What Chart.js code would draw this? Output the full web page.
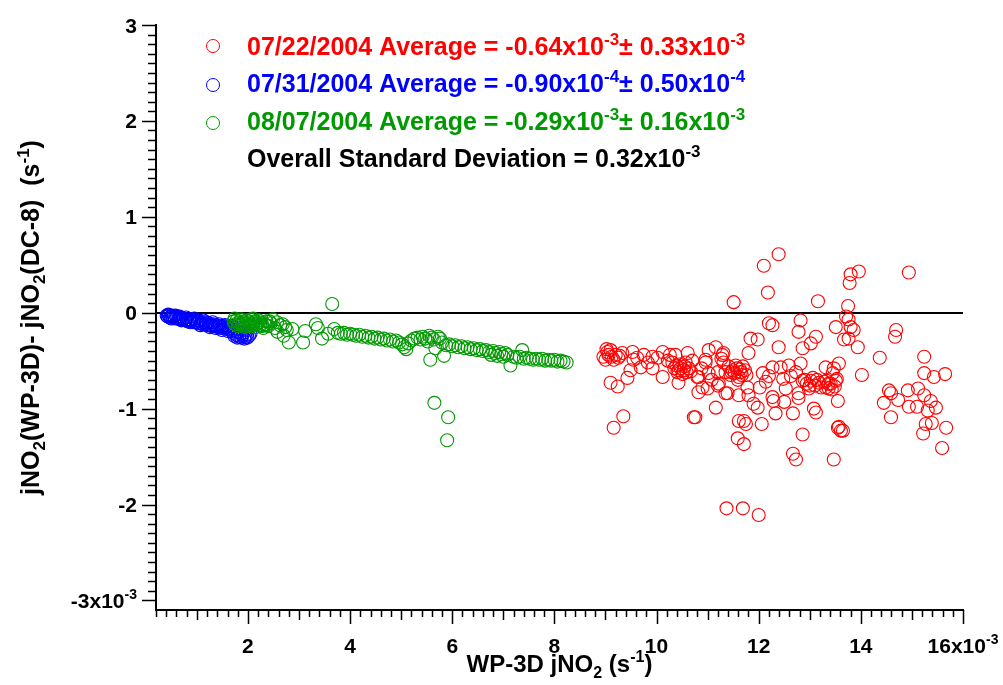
<!DOCTYPE html>
<html>
<head>
<meta charset="utf-8">
<script src="https://cdn.jsdelivr.net/npm/chart.js@4/dist/chart.umd.min.js"></script>
<style>
  body { margin: 0; background: #fff; }
</style>
</head>
<body>
<canvas id="jno2Chart" width="1003" height="685"></canvas>
<script>
// [x, y] pairs, both in units of 1e-3 s^-1
var red0722 = [
  [11.51, 0.11], [9.04, -0.41], [9.10, -0.39], [8.96, -0.46], [9.20, -0.44], [9.25, -0.47],
  [9.33, -0.42], [9.00, -0.49], [9.16, -0.49], [9.53, -0.41], [9.55, -0.49], [9.75, -0.44],
  [9.92, -0.46], [10.12, -0.41], [10.02, -0.47], [9.69, -0.57], [9.92, -0.58], [9.49, -0.60],
  [9.43, -0.68], [9.10, -0.73], [9.24, -0.77], [10.12, -0.67], [10.37, -0.44], [10.61, -0.42],
  [10.31, -0.52], [10.39, -0.55], [10.47, -0.58], [10.55, -0.56], [10.43, -0.60], [10.59, -0.62],
  [10.51, -0.64], [10.63, -0.58], [10.35, -0.58], [10.67, -0.61], [10.43, -0.73], [10.80, -0.67],
  [10.82, -0.83], [11.00, -0.79], [10.96, -0.52], [11.16, -0.36], [11.02, -0.39], [11.31, -0.42],
  [11.31, -0.52], [11.20, -0.62], [11.20, -0.76], [11.39, -0.84], [11.16, -0.99], [10.73, -1.09],
  [9.35, -1.08], [9.16, -1.20], [11.61, -1.13], [11.59, -1.31],
  [12.39, 0.61], [12.10, 0.49], [12.18, 0.21], [13.16, 0.12], [12.20, -0.11], [12.27, -0.13],
  [12.82, -0.08], [12.78, -0.20], [13.51, -0.15], [13.12, -0.25], [13.02, -0.32], [12.86, -0.37],
  [12.39, -0.36], [11.84, -0.27], [11.98, -0.28], [11.80, -0.42], [11.29, -0.44], [10.96, -0.49],
  [11.41, -0.56], [11.49, -0.60], [11.57, -0.58], [11.65, -0.62], [11.73, -0.60], [11.45, -0.65],
  [11.61, -0.67], [11.69, -0.56], [11.76, -0.65], [11.53, -0.63], [11.35, -0.62],
  [12.08, -0.63], [12.27, -0.57], [12.43, -0.57], [12.59, -0.55], [12.73, -0.62], [12.82, -0.53],
  [12.86, -0.71], [12.94, -0.74], [13.02, -0.71], [13.10, -0.76], [13.18, -0.73], [12.98, -0.79],
  [13.22, -0.78], [13.06, -0.68], [13.37, -0.74], [13.51, -0.71], [13.57, -0.53], [13.31, -0.57],
  [13.45, -0.63], [10.82, -0.67], [11.02, -0.63], [10.90, -0.78], [11.22, -0.74], [11.35, -0.84],
  [11.61, -0.86], [11.78, -0.78], [11.80, -0.86], [11.90, -0.95], [11.98, -0.99], [12.27, -0.88],
  [12.29, -0.92], [12.53, -0.79], [12.33, -1.05], [12.67, -1.05], [12.78, -0.84], [12.78, -0.89],
  [13.08, -1.00], [13.12, -1.04], [13.55, -0.92], [11.71, -1.13], [11.75, -1.16], [12.06, -1.16],
  [10.76, -1.09], [11.71, -1.37], [12.86, -1.27], [12.67, -1.47], [12.73, -1.53], [13.47, -1.53],
  [13.55, -1.20], [13.61, -1.23], [11.37, -2.04], [11.69, -2.04], [12.00, -2.11], [13.67, -0.28],
  [13.96, 0.43], [13.80, 0.40], [13.78, 0.31], [14.94, 0.42], [13.75, 0.07], [13.71, -0.04],
  [13.76, -0.07], [13.80, -0.15], [13.86, -0.18], [13.76, -0.27], [13.94, -0.36], [14.69, -0.18],
  [14.67, -0.25], [14.37, -0.47], [14.02, -0.65], [13.47, -0.58], [13.33, -0.71], [13.41, -0.74],
  [13.49, -0.77], [13.37, -0.79], [13.53, -0.69], [13.31, -0.78], [15.24, -0.46], [15.24, -0.63],
  [15.43, -0.67], [15.65, -0.64], [14.55, -0.81], [14.59, -0.84], [14.45, -0.94], [14.73, -0.91],
  [14.92, -0.81], [15.12, -0.79], [15.24, -0.86], [14.94, -0.98], [15.10, -0.98], [15.37, -0.92],
  [15.47, -0.99], [15.31, -1.02], [14.59, -1.09], [15.27, -1.16], [15.39, -1.15], [15.22, -1.26],
  [15.67, -1.20], [13.57, -1.19], [13.65, -1.23], [15.59, -1.41],
  [9.06, -0.44], [9.12, -0.46], [9.02, -0.38], [9.28, -0.45], [10.45, -0.54], [10.53, -0.60],
  [10.41, -0.62], [10.57, -0.52], [11.47, -0.62], [11.55, -0.55], [11.63, -0.59], [11.67, -0.65],
  [11.59, -0.70], [12.90, -0.70], [13.00, -0.76], [13.14, -0.70], [13.28, -0.72], [13.43, -0.80],
  [10.22, -0.50], [10.26, -0.44], [9.83, -0.52], [9.62, -0.47], [10.70, -0.50], [10.88, -0.58],
  [11.08, -0.70], [11.27, -0.48], [12.14, -0.72], [12.20, -0.66], [12.48, -0.69], [12.63, -0.66],
  [12.50, -0.93], [12.02, -0.78]
];

var blue0731 = [
  [0.41, -0.03], [0.43, -0.04], [0.45, -0.03], [0.47, -0.05], [0.49, -0.04], [0.51, -0.03],
  [0.53, -0.05], [0.55, -0.04], [0.57, -0.06], [0.60, -0.05], [0.62, -0.04], [0.64, -0.06],
  [0.67, -0.07], [0.69, -0.05], [0.72, -0.07], [0.74, -0.06], [0.77, -0.08], [0.80, -0.07],
  [0.82, -0.09], [0.85, -0.08], [0.88, -0.07], [0.90, -0.09], [0.93, -0.10], [0.96, -0.08],
  [0.99, -0.10], [1.02, -0.11], [1.05, -0.09], [1.08, -0.11], [1.11, -0.12], [1.14, -0.10],
  [1.17, -0.12], [1.20, -0.13], [1.23, -0.11], [1.26, -0.13], [1.29, -0.14], [1.32, -0.12],
  [1.35, -0.14], [1.38, -0.13], [1.41, -0.15], [1.44, -0.14], [1.47, -0.16], [1.50, -0.15],
  [1.53, -0.14], [1.56, -0.16], [1.59, -0.15], [1.62, -0.17], [1.65, -0.16], [1.68, -0.19],
  [1.71, -0.21], [1.74, -0.18], [1.77, -0.23], [1.80, -0.20], [1.83, -0.25], [1.86, -0.22],
  [1.89, -0.24], [1.92, -0.21], [1.95, -0.25], [1.98, -0.23], [2.02, -0.24], [2.05, -0.22],
  [1.70, -0.14], [1.85, -0.16],
  [0.44, -0.02], [0.50, -0.06], [0.58, -0.03], [0.66, -0.04], [0.70, -0.08], [0.79, -0.05],
  [0.87, -0.10], [0.95, -0.06], [1.01, -0.08], [1.07, -0.13], [1.13, -0.08], [1.19, -0.10],
  [1.25, -0.15], [1.31, -0.10], [1.37, -0.16], [1.43, -0.12], [1.49, -0.18], [1.55, -0.13],
  [1.61, -0.19], [1.67, -0.14], [1.73, -0.24], [1.79, -0.26], [1.87, -0.26], [1.93, -0.27],
  [1.99, -0.26]
];

var green0807 = [
  [1.72, -0.09], [1.75, -0.12], [1.78, -0.08], [1.80, -0.14], [1.83, -0.10], [1.86, -0.07],
  [1.88, -0.13], [1.91, -0.09], [1.93, -0.15], [1.96, -0.11], [1.98, -0.08], [2.01, -0.13],
  [2.03, -0.10], [2.06, -0.07], [2.08, -0.14], [2.11, -0.11], [2.13, -0.09], [2.16, -0.15],
  [2.18, -0.12], [2.21, -0.08], [2.24, -0.13], [2.27, -0.11], [2.30, -0.16], [2.33, -0.12],
  [2.36, -0.09], [2.40, -0.14], [2.44, -0.11], [2.49, -0.07], [2.53, -0.16], [2.63, -0.13],
  [2.73, -0.15], [2.76, -0.18], [2.80, -0.31], [3.08, -0.31], [3.12, -0.19], [3.33, -0.12],
  [3.37, -0.16], [3.45, -0.27], [3.57, -0.22], [3.69, -0.17], [3.65, 0.09],
  [1.74, -0.06], [1.82, -0.12], [1.90, -0.11], [1.97, -0.14], [2.04, -0.12], [2.10, -0.06],
  [2.15, -0.12], [2.22, -0.10], [2.28, -0.14], [2.35, -0.13], [2.42, -0.09], [2.57, -0.10],
  [2.68, -0.12], [2.87, -0.17], [2.58, -0.20], [2.70, -0.24],
  [3.76, -0.21], [3.82, -0.22], [3.88, -0.21], [3.94, -0.23], [4.00, -0.22], [4.06, -0.23],
  [4.12, -0.24], [4.18, -0.23], [4.24, -0.25], [4.30, -0.24], [4.36, -0.26], [4.42, -0.25],
  [4.48, -0.27], [4.54, -0.26], [4.60, -0.28], [4.66, -0.27], [4.72, -0.29], [4.78, -0.28],
  [4.84, -0.30], [4.90, -0.29], [4.96, -0.31], [5.02, -0.33], [5.06, -0.36], [5.10, -0.38],
  [5.14, -0.32], [5.20, -0.29], [5.26, -0.27], [5.32, -0.26], [5.38, -0.28], [5.42, -0.25],
  [5.47, -0.27], [5.52, -0.30], [5.55, -0.24], [5.60, -0.26], [5.64, -0.28], [5.67, -0.37],
  [5.57, -0.49], [5.84, -0.45], [5.72, -0.25], [5.76, -0.27], [5.80, -0.31], [5.88, -0.34],
  [5.94, -0.33], [6.00, -0.35], [6.06, -0.34], [6.12, -0.36], [6.18, -0.35], [6.24, -0.37],
  [6.30, -0.36], [6.36, -0.38], [6.42, -0.37], [6.48, -0.39], [6.54, -0.38], [6.60, -0.40],
  [6.66, -0.39], [6.72, -0.41], [6.76, -0.44], [6.80, -0.40], [6.84, -0.42], [6.88, -0.45],
  [6.92, -0.41], [6.96, -0.43], [7.00, -0.46], [7.04, -0.42], [7.08, -0.44], [7.14, -0.55],
  [7.20, -0.46], [7.26, -0.47], [7.32, -0.46], [7.37, -0.39], [7.40, -0.48], [7.46, -0.47],
  [7.52, -0.48], [7.58, -0.49], [7.64, -0.48], [7.70, -0.49], [7.76, -0.48], [7.82, -0.50],
  [7.88, -0.49], [7.94, -0.50], [8.00, -0.49], [8.06, -0.51], [8.12, -0.50], [8.18, -0.51],
  [8.24, -0.52], [5.65, -0.94], [5.92, -1.09], [5.90, -1.33]
];

var xTickValues = [2, 4, 6, 8, 10, 12, 14, 16];
var xTickLabels = ["2", "4", "6", "8", "10", "12", "14", "16x10"];
var yTickValues = [-3, -2, -1, 0, 1, 2, 3];
var yTickLabels = ["-3x10", "-2", "-1", "0", "1", "2", "3"];

var RED = "#ff0000";
var BLUE = "#0000ff";
var GREEN = "#009900";
var FONT = '"Liberation Sans", Arial, sans-serif';

var legendRows = [
  { color: RED, marker: true, parts: [["07/22/2004 Average = -0.64x10", ""], ["-3", "sup"], ["\u00b1 0.33x10", ""], ["-3", "sup"]] },
  { color: BLUE, marker: true, parts: [["07/31/2004 Average = -0.90x10", ""], ["-4", "sup"], ["\u00b1 0.50x10", ""], ["-4", "sup"]] },
  { color: GREEN, marker: true, parts: [["08/07/2004 Average = -0.29x10", ""], ["-3", "sup"], ["\u00b1 0.16x10", ""], ["-3", "sup"]] },
  { color: "#000", marker: false, parts: [["Overall Standard Deviation = 0.32x10", ""], ["-3", "sup"]] }
];

function toPoints(arr) {
  return arr.map(function (p) { return { x: p[0], y: p[1] }; });
}

// text with super/subscripts, parts = [[text, ""|"sup"|"sub"], ...]
function richWidth(ctx, parts, size) {
  var w = 0;
  parts.forEach(function (p) {
    ctx.font = "bold " + (p[1] ? Math.round(size * 0.68) : size) + "px " + FONT;
    w += ctx.measureText(p[0]).width;
  });
  return w;
}

function drawRich(ctx, parts, x, y, size, align) {
  var w = richWidth(ctx, parts, size);
  if (align === "center") x -= w / 2;
  if (align === "right") x -= w;
  ctx.textAlign = "left";
  ctx.textBaseline = "alphabetic";
  parts.forEach(function (p) {
    var s = p[1] ? Math.round(size * 0.68) : size;
    var dy = p[1] === "sup" ? -size * 0.42 : p[1] === "sub" ? size * 0.25 : 0;
    ctx.font = "bold " + s + "px " + FONT;
    ctx.fillText(p[0], x, y + dy);
    x += ctx.measureText(p[0]).width;
  });
}

var decorations = {
  id: "decorations",
  afterDraw: function (chart) {
    var ctx = chart.ctx;
    var xs = chart.scales.x;
    var ys = chart.scales.y;
    var area = chart.chartArea;
    ctx.save();
    ctx.strokeStyle = "#000";
    ctx.fillStyle = "#000";
    ctx.lineWidth = 1.5;

    // x ticks: minor every 0.2, medium on odd integers, long on labelled ones
    ctx.beginPath();
    for (var i = 1; i <= 80; i++) {
      var px = Math.round(xs.getPixelForValue(i / 5)) + 0.5;
      var len = i % 10 === 0 ? 14 : i % 5 === 0 ? 10 : 7;
      ctx.moveTo(px, area.bottom);
      ctx.lineTo(px, area.bottom + len);
    }
    // y ticks: minor every 0.1
    for (var j = -30; j <= 30; j++) {
      var py = Math.round(ys.getPixelForValue(j / 10)) + 0.5;
      var l = j % 10 === 0 ? 14 : 8;
      ctx.moveTo(area.left, py);
      ctx.lineTo(area.left - l, py);
    }
    ctx.stroke();

    // tick labels
    xTickValues.forEach(function (v, k) {
      var parts = [[xTickLabels[k], ""]];
      if (k === xTickValues.length - 1) parts.push(["-3", "sup"]);
      drawRich(ctx, parts, xs.getPixelForValue(v), 653, 21, "center");
    });
    yTickValues.forEach(function (v, k) {
      var parts = [[yTickLabels[k], ""]];
      if (k === 0) parts.push(["-3", "sup"]);
      drawRich(ctx, parts, 137, ys.getPixelForValue(v) + 7.5, 21, "right");
    });

    // axis titles
    drawRich(ctx, [["WP-3D jNO", ""], ["2", "sub"], [" (s", ""], ["-1", "sup"], [")", ""]],
      (area.left + area.right) / 2, 672, 24, "center");
    ctx.save();
    ctx.translate(39, (area.top + area.bottom) / 2);
    ctx.rotate(-Math.PI / 2);
    drawRich(ctx, [["jNO", ""], ["2", "sub"], ["(WP-3D)- jNO", ""], ["2", "sub"], ["(DC-8)  (s", ""], ["-1", "sup"], [")", ""]],
      0, 0, 25, "center");
    ctx.restore();

    // legend
    var baselines = [55, 92, 130, 167];
    var markerY = [46, 85, 123];
    legendRows.forEach(function (row, r) {
      if (row.marker) {
        ctx.beginPath();
        ctx.strokeStyle = row.color;
        ctx.lineWidth = 1;
        ctx.arc(213, markerY[r], 6.5, 0, Math.PI * 2);
        ctx.stroke();
      }
      ctx.fillStyle = row.color;
      drawRich(ctx, row.parts, 247, baselines[r], 25, "left");
    });
    ctx.restore();
  }
};

function series(data, color, order) {
  return {
    data: toPoints(data),
    borderColor: color,
    backgroundColor: "rgba(0,0,0,0)",
    pointRadius: 6.5,
    pointBorderWidth: 1.1,
    pointHoverRadius: 6.5,
    showLine: false,
    order: order
  };
}

new Chart(document.getElementById("jno2Chart").getContext("2d"), {
  type: "scatter",
  data: {
    datasets: [
      series(green0807, GREEN, 0),
      series(blue0731, BLUE, 1),
      series(red0722, RED, 2)
    ]
  },
  options: {
    responsive: false,
    animation: false,
    layout: { padding: { left: 156, right: 40, top: 25, bottom: 75 } },
    plugins: { legend: { display: false }, tooltip: { enabled: false } },
    scales: {
      x: {
        type: "linear",
        min: 0.2,
        max: 16,
        ticks: { display: false },
        grid: { display: false, drawTicks: false },
        border: { display: true, color: "#000", width: 2 }
      },
      y: {
        type: "linear",
        min: -3.1,
        max: 3,
        afterBuildTicks: function (scale) {
          scale.ticks = yTickValues.map(function (v) { return { value: v }; });
        },
        ticks: { display: false },
        grid: {
          drawTicks: false,
          color: function (c) { return c.tick && c.tick.value === 0 ? "#000" : "rgba(0,0,0,0)"; },
          lineWidth: 2
        },
        border: { display: true, color: "#000", width: 2 }
      }
    }
  },
  plugins: [decorations]
});
</script>
</body>
</html>
